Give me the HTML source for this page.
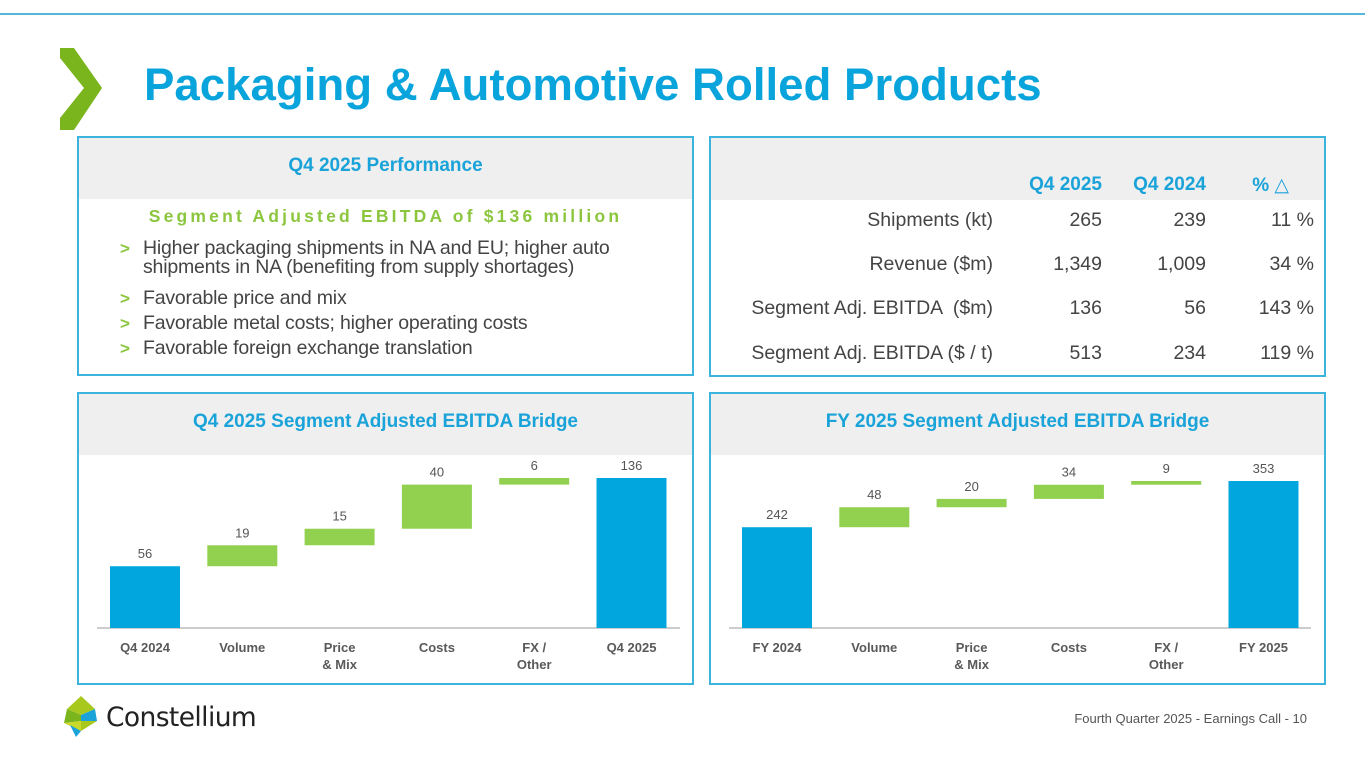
<!DOCTYPE html>
<html><head><meta charset="utf-8"><style>
body{margin:0;width:1365px;height:768px;position:relative;background:#fff;font-family:"Liberation Sans",Arial,sans-serif;overflow:hidden}
.abs{position:absolute}
.box{position:absolute;border:2px solid #3cb4dc;box-sizing:border-box;background:#fff}
.hdr{position:absolute;left:0;right:0;top:0;height:61px;background:#efefef;color:#1aa3d9;font-weight:bold;font-size:19px;text-align:center;line-height:56px}
.bl{position:absolute;left:64px;font-size:19.5px;color:#444;line-height:19px;letter-spacing:-0.2px}
.bl b{position:absolute;left:-23px;color:#8cc63f;font-size:17px}
.tc{position:absolute;font-size:19.5px;color:#444;text-align:right}
.th{position:absolute;font-size:19px;color:#1aa3d9;font-weight:bold;text-align:right}
</style></head><body>
<div class="abs" style="left:0;top:13px;width:1365px;height:2px;background:#56b6d8"></div>
<svg class="abs" style="left:58px;top:46px" width="48" height="88"><polygon points="2,2 16,2 44,42 16,84 2,84 2,72 26,42 2,12" fill="#7ab51d"/></svg>
<div class="abs" style="left:144px;top:59px;font-size:45.6px;font-weight:bold;color:#0aa4dc">Packaging &amp; Automotive Rolled Products</div>

<div class="box" style="left:77px;top:136px;width:617px;height:240px">
 <div class="hdr">Q4 2025 Performance</div>
 <div class="abs" style="left:0;right:0;top:68px;text-align:center;color:#8cc63f;font-weight:bold;font-size:17.5px;letter-spacing:3.2px">Segment Adjusted EBITDA of $136 million</div>
 <div class="bl" style="top:101px"><b>&gt;</b>Higher packaging shipments in NA and EU; higher auto<br>shipments in NA (benefiting from supply shortages)</div>
 <div class="bl" style="top:151px"><b>&gt;</b>Favorable price and mix</div>
 <div class="bl" style="top:176px"><b>&gt;</b>Favorable metal costs; higher operating costs</div>
 <div class="bl" style="top:201px"><b>&gt;</b>Favorable foreign exchange translation</div>
</div>

<div class="box" style="left:709px;top:136px;width:617px;height:241px">
 <div class="hdr" style="height:62px"></div>
 <div class="th" style="right:222px;top:36px">Q4 2025</div>
 <div class="th" style="right:118px;top:36px">Q4 2024</div>
 <div class="th" style="right:35px;top:36px">% <span style="font-weight:normal">△</span></div>
 <div id="rows"></div>
</div>

<div class="box" style="left:77px;top:392px;width:617px;height:293px">
 <div class="hdr">Q4 2025 Segment Adjusted EBITDA Bridge</div>
</div>
<div class="box" style="left:709px;top:392px;width:617px;height:293px">
 <div class="hdr">FY 2025 Segment Adjusted EBITDA Bridge</div>
</div>
<svg id="chart" class="abs" style="left:0;top:0" width="1365" height="768"></svg>

<svg class="abs" style="left:62px;top:695px" width="38" height="44">
<polygon points="19,1 33,14 19,20 5,14" fill="#a8c81e"/><polygon points="19,20 33,14 35,26 19,26" fill="#1aa3d9"/><polygon points="5,14 19,20 19,26 2,28" fill="#7ab51d"/><polygon points="2,28 19,26 19,36" fill="#c9d92a"/><polygon points="19,26 35,26 19,36" fill="#a8c81e"/><polygon points="8,30 19,36 14,42" fill="#1aa3d9"/></svg>
<div class="abs" style="left:106px;top:702px;font-size:26.5px;color:#222;font-family:'DejaVu Sans',sans-serif;letter-spacing:-0.6px">Constellium</div>
<div class="abs" style="right:58px;top:711px;font-size:13px;color:#555">Fourth Quarter 2025 - Earnings Call - 10</div>

<script>
const rowLabels=["Shipments (kt)","Revenue ($m)","Segment Adj. EBITDA  ($m)","Segment Adj. EBITDA ($ / t)"];
const rowQ425=["265","1,349","136","513"];
const rowQ424=["239","1,009","56","234"];
const rowPct=["11 %","34 %","143 %","119 %"];
const rowsEl=document.getElementById('rows');
const rowTops=[71,115,159,204];
rowLabels.forEach((l,i)=>{
 [[l,331],[rowQ425[i],222],[rowQ424[i],118],[rowPct[i],10]].forEach((c,j)=>{
  const d=document.createElement('div');d.className='tc';d.style.right=c[1]+'px';d.style.top=rowTops[i]+'px';d.style.whiteSpace='pre';d.textContent=c[0];
  
  
  rowsEl.appendChild(d);
 });
});

const q4Cats=["Q4 2024","Volume","Price\n& Mix","Costs","FX /\nOther","Q4 2025"];
const q4Vals=[56,19,15,40,6,136];
const fyCats=["FY 2024","Volume","Price\n& Mix","Costs","FX /\nOther","FY 2025"];
const fyVals=[242,48,20,34,9,353];

const svg=document.getElementById('chart');const NS='http://www.w3.org/2000/svg';
function mk(t,a){const e=document.createElementNS(NS,t);for(const k in a)e.setAttribute(k,a[k]);svg.appendChild(e);return e;}
function draw(cats,vals,x0,axL,axR,scale,prefix){
 const base=628,step=97.3,bw=70;
 const y=v=>base-v*scale;
 const ax=mk('line',{x1:axL,x2:axR,y1:base,y2:base,stroke:'#bbb','stroke-width':1.5});
 
 
 let run=0;
 vals.forEach((v,i)=>{
  const cx=x0+i*step;const last=i===vals.length-1,first=i===0;
  let lo,hi,col;
  if(first||last){lo=0;hi=v;col='#00a6dd';run=v;}else{lo=run;hi=run+v;run=hi;col='#92d050';}
  const r=mk('rect',{x:cx-bw/2,y:y(hi),width:bw,height:y(lo)-y(hi),fill:col});
  
  
  const t=mk('text',{x:cx,y:y(hi)-8,'text-anchor':'middle','font-size':13,fill:'#555','font-family':'Liberation Sans, sans-serif'});t.textContent=v;
  
  
  cats[i].split('\n').forEach((ln,k)=>{
   const c=mk('text',{x:cx,y:652+k*17,'text-anchor':'middle','font-size':13,'font-weight':'bold',fill:'#595959','font-family':'Liberation Sans, sans-serif'});c.textContent=ln;
   
   
  });
 });
}
draw(q4Cats,q4Vals,145,97,680,150/136,'q4');
draw(fyCats,fyVals,777,729,1311,147/353,'fy');
</script>
</body></html>
